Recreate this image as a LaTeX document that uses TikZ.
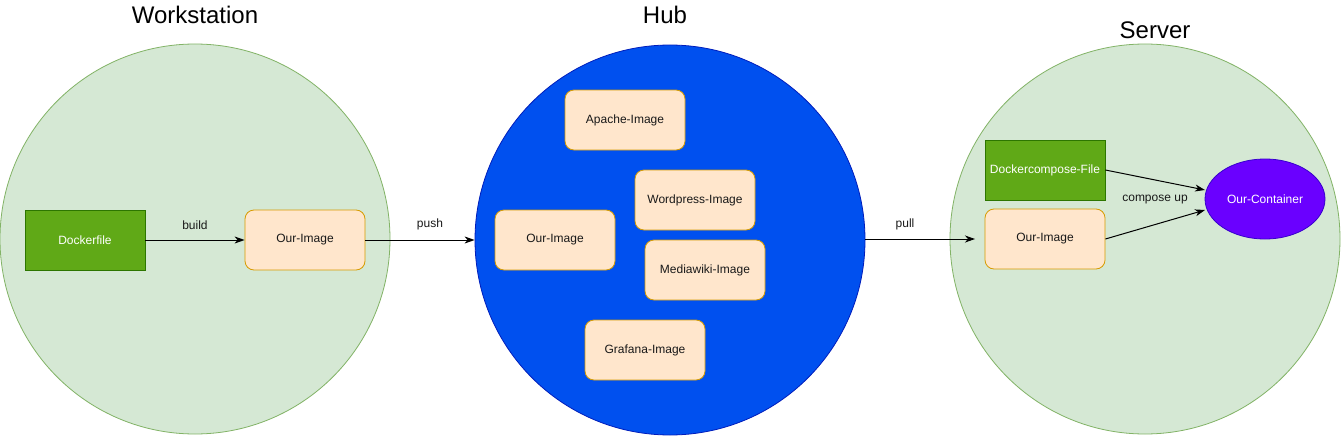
\documentclass[tikz,border=0pt]{standalone}
\usepackage{fontspec}
\setmainfont{Liberation Sans}
\usetikzlibrary{arrows.meta,shapes.geometric}
\definecolor{grfill}{HTML}{D5E8D4}
\definecolor{grline}{HTML}{82B366}
\definecolor{hubfill}{HTML}{0050EF}
\definecolor{hubline}{HTML}{001DBC}
\definecolor{dkgreen}{HTML}{60A917}
\definecolor{dkgreenline}{HTML}{2D7600}
\definecolor{imgfill}{HTML}{FFE6CC}
\definecolor{imgline}{HTML}{D79B00}
\definecolor{contfill}{HTML}{6A00FF}
\definecolor{contline}{HTML}{3700CC}
\tikzset{
  zone/.style={circle,draw=grline,fill=grfill,minimum size=390pt,inner sep=0pt,line width=0.8pt},
  hubzone/.style={circle,draw=hubline,fill=hubfill,minimum size=390pt,inner sep=0pt,line width=0.8pt},
  filebox/.style={rectangle,draw=dkgreenline,fill=dkgreen,text=white,minimum width=120pt,minimum height=60pt,inner sep=0pt,font=\fontsize{12}{14}\selectfont,line width=0.8pt},
  imgbox/.style={rectangle,rounded corners=9pt,draw=imgline,fill=imgfill,text=black!90,minimum width=120pt,minimum height=60pt,inner sep=0pt,font=\fontsize{12}{14}\selectfont,line width=0.8pt},
  contbox/.style={ellipse,draw=contline,fill=contfill,text=white,minimum width=120pt,minimum height=80pt,inner sep=0pt,font=\fontsize{12}{14}\selectfont,line width=0.8pt},
  title/.style={font=\fontsize{24}{28}\selectfont,text=black},
  lbl/.style={font=\fontsize{12}{14}\selectfont,text=black!90},
  conn/.style={-{Stealth[length=10pt,width=7pt,inset=3pt]},line width=1pt,black},
}
\begin{document}
\begin{tikzpicture}[x=1pt,y=-1pt]
\useasboundingbox[fill=white] (0,0) rectangle (1341,436);
% zones
\node[zone] (ws) at (195,239) {};
\node[hubzone] (hub) at (670,240) {};
\node[zone] (srv) at (1145,239) {};
% titles
\node[title] (tws) at (195,15) {Workstation};
\node[title] (thub) at (665,15) {Hub};
\node[title] (tsrv) at (1155,30) {Server};
% workstation
\node[filebox] (dockerfile) at (85,240) {Dockerfile};
\node[imgbox] (wsimg) at (305,240) {Our-Image};
% hub
\node[imgbox] (apache) at (625,120) {Apache-Image};
\node[imgbox] (wordpress) at (695,200) {Wordpress-Image};
\node[imgbox] (hubimg) at (555,240) {Our-Image};
\node[imgbox] (mediawiki) at (705,270) {Mediawiki-Image};
\node[imgbox] (grafana) at (645,350) {Grafana-Image};
% server
\node[filebox] (compose) at (1045,170) {Dockercompose-File};
\node[imgbox] (srvimg) at (1045,239) {Our-Image};
\node[contbox] (cont) at (1265,199) {Our-Container};
\coordinate (pullend) at (975,239);
\coordinate (conta) at (1205,190);
\coordinate (contb) at (1205,210);
% connectors
\draw[conn] (dockerfile.east) -- (wsimg.west);
\node[lbl] (lbuild) at (195,225) {build};
\draw[conn] (wsimg.east) -- (hub.west);
\node[lbl] (lpush) at (430,224) {push};
\draw[conn] (hub.east |- pullend) -- (pullend);
\node[lbl] (lpull) at (905,224) {pull};
\draw[conn] (compose.east) -- (conta);
\draw[conn] (srvimg.east) -- (contb);
\node[lbl] (lcompose) at (1155,200) {compose up};
\end{tikzpicture}
\end{document}
